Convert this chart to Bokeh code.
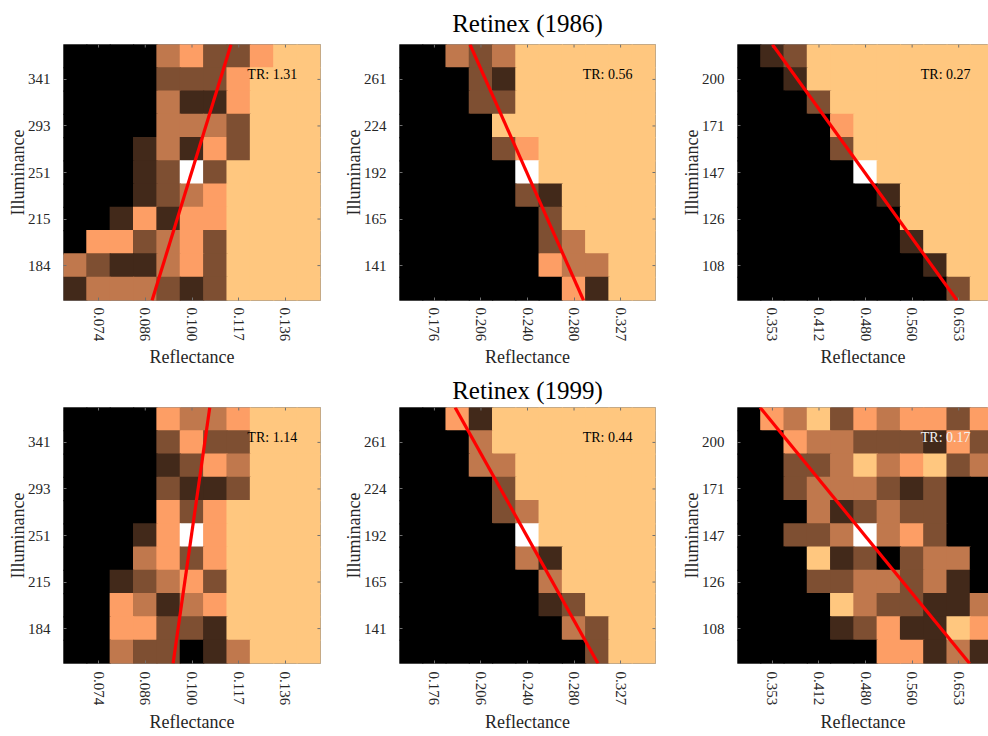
import numpy as np
from bokeh.plotting import figure
from bokeh.layouts import column, row
from bokeh.models import Range1d, FixedTicker, LinearColorMapper, ColumnDataSource
from bokeh.core.properties import value
from bokeh.embed import file_html
from bokeh.resources import INLINE

# ---------------- data ----------------
# Each grid: top row first, 11 columns (reflectance) x 11 rows (illuminance).
# Digits 0..5 = response level, "W" = reference cell (white).
grid_1986_low = [
    "00003422455", "00002224555", "00003114555", "00003332555",
    "00013142555", "00012W25555", "00012345555", "00141445555",
    "04423425555", "32113425555", "13332125555",
]
grid_1986_mid = [
    "00323555555", "00021555555", "00022555555", "00005555555",
    "00002455555", "00000W55555", "00000215555", "00000025555",
    "00000023555", "00000043355", "00000004155",
]
grid_1986_high = [
    "01255555555", "00155555555", "00025555555", "00004555555",
    "00002555555", "00000W55555", "00000015555", "00000005555",
    "00000001555", "00000000155", "00000000025",
]
grid_1999_low = [
    "00004334555", "00002422555", "00001243555", "00002112555",
    "00004245555", "00014W45555", "00034245555", "00123425555",
    "00431345555", "00442215555", "00322013555",
]
grid_1999_mid = [
    "00415555555", "00035555555", "00033555555", "00002555555",
    "00002355555", "00000W55555", "00000315555", "00000035555",
    "00000012555", "00000003255", "00000000255",
]
grid_1999_high = [
    "04352434424", "00433222142", "00223534523", "00233321200",
    "00031232200", "00223W34200", "00051202330", "00022332310",
    "00005322113", "00001241154", "00000044131",
]

reflectance_low = ["0.074", "0.086", "0.100", "0.117", "0.136"]
reflectance_mid = ["0.176", "0.206", "0.240", "0.280", "0.327"]
reflectance_high = ["0.353", "0.412", "0.480", "0.560", "0.653"]
illuminance_low = ["184", "215", "251", "293", "341"]
illuminance_mid = ["141", "165", "192", "224", "261"]
illuminance_high = ["108", "126", "147", "171", "200"]

tr_1986 = [1.31, 0.56, 0.27]
tr_1999 = [1.14, 0.44, 0.17]

# fitted line: column position (cell index) where it leaves the top and bottom edge
line_top_1986 = [6.67, 2.53, 1.00]
line_bottom_1986 = [3.29, 7.41, 8.93]
line_top_1999 = [5.76, 1.89, 0.47]
line_bottom_1999 = [4.19, 8.03, 9.47]

titles = ["Retinex (1986)", "Retinex (1999)"]

# copper colormap, 6 levels
copper6 = ["#000000", "#42291a", "#7e4f32", "#c0784d", "#fd9e65", "#ffc77f"]

SERIF = "Liberation Serif"
TXT = "#262626"
TICK = "#707070"
N = 11
label_ticks = [1, 3, 5, 7, 9]
TICK_LEN = 0.13  # in cell units (about 3 px)


def panel(grid, xlabels, ylabels, tr, ltop, lbot, width, height,
          left, right, top, bottom, xend, title=None, right_ticks=True,
          tr_color="black", title_standoff=10, x_std=8, xlab_std=4):
    p = figure(width=width, height=height,
               x_range=Range1d(-0.5, xend), y_range=Range1d(-0.5, N - 0.5),
               output_backend="svg", toolbar_location=None,
               min_border_left=left, min_border_right=right,
               min_border_top=top, min_border_bottom=bottom,
               title=title)
    p.background_fill_color = "white"
    p.border_fill_color = "white"
    p.outline_line_color = "#8c8c8c"
    p.outline_line_width = 1
    p.grid.visible = False
    if title:
        p.title.text_font = SERIF
        p.title.text_font_size = "25px"
        p.title.text_font_style = "normal"
        p.title.text_color = "black"
        p.title.align = "center"
        p.title.standoff = title_standoff

    xs, ys, lv = [], [], []
    for r, line in enumerate(grid):
        for c, ch in enumerate(line):
            xs.append(c)
            ys.append(N - 1 - r)
            lv.append(np.nan if ch == "W" else float(ch))
    src = ColumnDataSource(dict(x=np.array(xs, dtype=float),
                                y=np.array(ys, dtype=float),
                                level=np.array(lv, dtype=float)))
    mapper = LinearColorMapper(palette=copper6, low=-0.5, high=5.5, nan_color="white")
    # slightly oversized cells so that no seams show between neighbours
    p.rect(x="x", y="y", width=1.05, height=1.05, source=src,
           fill_color={"field": "level", "transform": mapper}, line_color=None)

    # mirrored tick marks on the top (and right) edge
    tk = np.array(label_ticks, dtype=float)
    p.segment(x0=tk, y0=np.full(5, N - 0.5), x1=tk, y1=np.full(5, N - 0.5 - TICK_LEN),
              line_color=TICK, line_width=1)
    if right_ticks:
        p.segment(x0=np.full(5, xend), y0=tk, x1=np.full(5, xend - TICK_LEN), y1=tk,
                  line_color=TICK, line_width=1)

    # fitted red line through the grid
    p.line(x=[lbot, ltop], y=[-0.5, N - 0.5], line_color="#ff0000", line_width=3.2)

    p.text(x=[7.37], y=[9.2], text=[f"TR: {tr:.2f}"], text_font=value(SERIF),
           text_font_size="14px", text_color=tr_color,
           text_align="left", text_baseline="middle")

    xt = FixedTicker(ticks=label_ticks)
    yt = FixedTicker(ticks=label_ticks)
    for ax in p.xaxis:
        ax.ticker = xt
        ax.major_label_overrides = {t: s for t, s in zip(label_ticks, xlabels)}
        ax.major_label_orientation = "vertical"
        ax.axis_label = "Reflectance"
        ax.axis_label_standoff = xlab_std
        ax.major_label_standoff = x_std
    for ax in p.yaxis:
        ax.ticker = yt
        ax.major_label_overrides = {t: s for t, s in zip(label_ticks, ylabels)}
        ax.axis_label = "Illuminance"
        ax.axis_label_standoff = -3
        ax.major_label_standoff = 13
    for ax in list(p.xaxis) + list(p.yaxis):
        ax.major_label_text_font = SERIF
        ax.major_label_text_font_size = "15px"
        ax.major_label_text_color = TXT
        ax.axis_label_text_font = SERIF
        ax.axis_label_text_font_size = "18px"
        ax.axis_label_text_font_style = "normal"
        ax.axis_label_text_color = TXT
        ax.axis_line_color = None
        ax.major_tick_in = 3
        ax.major_tick_out = 0
        ax.major_tick_line_color = TICK
        ax.minor_tick_line_color = None
    return p


# column geometry (pixels)
row_specs = [
    dict(width=340, left=63, right=20, xend=10.5, right_ticks=True),
    dict(width=335, left=59, right=20, xend=10.5, right_ticks=True),
    dict(width=313, left=62, right=0, xend=10.28, right_ticks=False),
]

grids_top = [grid_1986_low, grid_1986_mid, grid_1986_high]
grids_bot = [grid_1999_low, grid_1999_mid, grid_1999_high]
xl = [reflectance_low, reflectance_mid, reflectance_high]
yl = [illuminance_low, illuminance_mid, illuminance_high]

top_figs, bot_figs = [], []
for i in range(3):
    s = row_specs[i]
    top_figs.append(panel(grids_top[i], xl[i], yl[i], tr_1986[i],
                          line_top_1986[i], line_bottom_1986[i],
                          s["width"], 371, s["left"], s["right"], 44, 71, s["xend"],
                          title=titles[0] if i == 1 else None,
                          right_ticks=s["right_ticks"], title_standoff=15,
                          x_std=7, xlab_std=3))
    bot_figs.append(panel(grids_bot[i], xl[i], yl[i], tr_1999[i],
                          line_top_1999[i], line_bottom_1999[i],
                          s["width"], 365, s["left"], s["right"], 36, 73, s["xend"],
                          title=titles[1] if i == 1 else None,
                          right_ticks=s["right_ticks"],
                          tr_color="#f2f2f2" if i == 2 else "black",
                          title_standoff=7))

layout = column(row(*top_figs, spacing=0), row(*bot_figs, spacing=0), spacing=0)

open("out.html", "w").write(file_html(layout, INLINE))
